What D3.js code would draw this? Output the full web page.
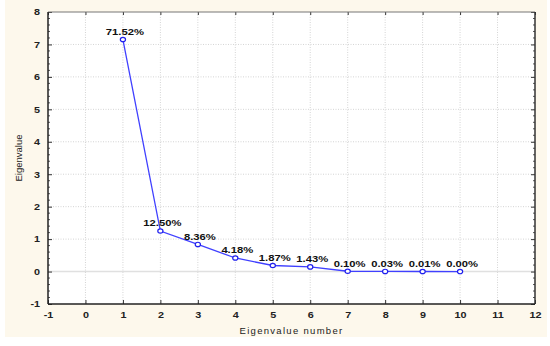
<!DOCTYPE html>
<html>
<head>
<meta charset="utf-8">
<script src="https://cdn.jsdelivr.net/npm/d3@7"></script>
<style>
body { margin: 0; background: #ffffff; }
text { font-family: Arial, "Liberation Sans", sans-serif; }
</style>
</head>
<body>
<div id="canvas"></div>
<script>
// eigenvalues
var eigenNumbers = [1, 2, 3, 4, 5, 6, 7, 8, 9, 10];
var eigenValues = [7.152, 1.250, 0.836, 0.418, 0.187, 0.143, 0.010, 0.003, 0.001, 0.000];
var pctLabels = ["71.52%", "12.50%", "8.36%", "4.18%", "1.87%", "1.43%", "0.10%", "0.03%", "0.01%", "0.00%"];
var xTicks = [-1, 0, 1, 2, 3, 4, 5, 6, 7, 8, 9, 10, 11, 12];
var yTicks = [-1, 0, 1, 2, 3, 4, 5, 6, 7, 8];

var width = 550, height = 346;
var margin = {left: 48, right: 15, top: 12, bottom: 42};

// the picture's text is wide and short, so stretch it sideways
function stretch(sel, k) {
    sel.each(function() {
        var t = d3.select(this);
        var x0 = +t.attr("x") || 0;
        t.attr("transform", "translate(" + x0 + ",0) scale(" + k + ",1) translate(" + (-x0) + ",0)");
    });
}

var svg = d3.select("#canvas").append("svg").attr("width", width).attr("height", height);
svg.append("rect").attr("x", 5).attr("y", 0).attr("width", 542).attr("height", 337).attr("fill", "#fdf8ec");

var x = d3.scaleLinear().domain([-1, 12]).range([margin.left, width - margin.right]);
var y = d3.scaleLinear().domain([-1, 8]).range([height - margin.bottom, margin.top]);

svg.append("rect")
    .attr("x", x(-1)).attr("y", y(8))
    .attr("width", x(12) - x(-1)).attr("height", y(-1) - y(8))
    .attr("fill", "#ffffff");

// grid
svg.append("g").selectAll("line")
    .data(xTicks.slice(1, -1))
    .enter().append("line")
    .attr("x1", d => x(d)).attr("x2", d => x(d))
    .attr("y1", y(8)).attr("y2", y(-1))
    .attr("stroke", "#d4d4d4").attr("stroke-width", 1).attr("stroke-dasharray", "1,1.5");
svg.append("g").selectAll("line")
    .data(yTicks.slice(1, -1))
    .enter().append("line")
    .attr("x1", x(-1)).attr("x2", x(12))
    .attr("y1", d => y(d)).attr("y2", d => y(d))
    .attr("stroke", d => d == 0 ? "#e0e0e0" : "#d4d4d4")
    .attr("stroke-width", d => d == 0 ? 1.5 : 1)
    .attr("stroke-dasharray", d => d == 0 ? null : "1,1.5");

// axes with inside ticks
var axisStyle = function(g) {
    g.select(".domain").remove();
    g.selectAll("text").attr("font-size", "9px").attr("font-weight", "bold").attr("fill", "#222");
    g.selectAll("line").attr("stroke", "#333");
};
svg.append("g")
    .attr("transform", "translate(0," + y(-1) + ")")
    .call(d3.axisBottom(x).tickValues(xTicks).tickSize(-4).tickPadding(8).tickFormat(d => String(d)))
    .call(axisStyle)
    .selectAll("text").call(stretch, 1.2);
svg.append("g")
    .attr("transform", "translate(0," + y(8) + ")")
    .call(d3.axisTop(x).tickValues(xTicks).tickSize(-3).tickFormat(""))
    .call(axisStyle);
svg.append("g")
    .attr("transform", "translate(" + x(-1) + ",0)")
    .call(d3.axisLeft(y).tickValues(yTicks).tickSize(-4).tickPadding(8).tickFormat(d => String(d)))
    .call(axisStyle)
    .selectAll("text").call(stretch, 1.2);
svg.append("g")
    .attr("transform", "translate(" + x(12) + ",0)")
    .call(d3.axisRight(y).tickValues(yTicks).tickSize(-4).tickFormat(""))
    .call(axisStyle);
// minor ticks
var minorY = d3.range(-1, 8, 0.2).filter(v => Math.abs(v - Math.round(v)) > 0.01);
svg.append("g").selectAll("line").data(minorY).enter().append("line")
    .attr("x1", x(-1)).attr("x2", x(-1) + 2).attr("y1", d => y(d)).attr("y2", d => y(d)).attr("stroke", "#555");
svg.append("g").selectAll("line").data(minorY).enter().append("line")
    .attr("x1", x(12)).attr("x2", x(12) - 2).attr("y1", d => y(d)).attr("y2", d => y(d)).attr("stroke", "#555");

// frame: darker left/bottom and right, lighter top
svg.append("line").attr("x1", x(-1)).attr("x2", x(12)).attr("y1", y(8)).attr("y2", y(8))
    .attr("stroke", "#777").attr("stroke-width", 1);
svg.append("line").attr("x1", x(12)).attr("x2", x(12)).attr("y1", y(8)).attr("y2", y(-1))
    .attr("stroke", "#333").attr("stroke-width", 1.5);
svg.append("line").attr("x1", x(-1)).attr("x2", x(-1)).attr("y1", y(8)).attr("y2", y(-1))
    .attr("stroke", "#222").attr("stroke-width", 1.5);
svg.append("line").attr("x1", x(-1)).attr("x2", x(12)).attr("y1", y(-1)).attr("y2", y(-1))
    .attr("stroke", "#222").attr("stroke-width", 1.5);

// axis titles
svg.append("text")
    .attr("x", (x(-1) + x(12)) / 2).attr("y", 334)
    .attr("text-anchor", "middle").attr("font-size", "9.5px").attr("fill", "#222")
    .attr("letter-spacing", "1.3px")
    .text("Eigenvalue number");
svg.append("text")
    .attr("transform", "translate(22," + ((y(8) + y(-1)) / 2) + ") rotate(-90)")
    .attr("text-anchor", "middle").attr("font-size", "9.5px").attr("fill", "#222")
    .text("Eigenvalue");

// line and points
var line = d3.line().x((d, i) => x(eigenNumbers[i])).y(d => y(d));
svg.append("path")
    .datum(eigenValues)
    .attr("d", line)
    .attr("fill", "none").attr("stroke", "#4040ff").attr("stroke-width", 1.3);
svg.append("g").selectAll("ellipse")
    .data(eigenValues)
    .enter().append("ellipse")
    .attr("cx", (d, i) => x(eigenNumbers[i])).attr("cy", d => y(d))
    .attr("rx", 2.6).attr("ry", 2.2)
    .attr("fill", "#ffffff").attr("stroke", "#2020ee").attr("stroke-width", 1.2);
svg.append("g").selectAll("text")
    .data(eigenValues)
    .enter().append("text")
    .attr("x", (d, i) => x(eigenNumbers[i]) + 2)
    .attr("y", d => y(d) - 4.5)
    .attr("text-anchor", "middle").attr("font-size", "9px").attr("font-weight", "bold").attr("fill", "#111")
    .text((d, i) => pctLabels[i])
    .call(stretch, 1.25);
</script>
</body>
</html>
